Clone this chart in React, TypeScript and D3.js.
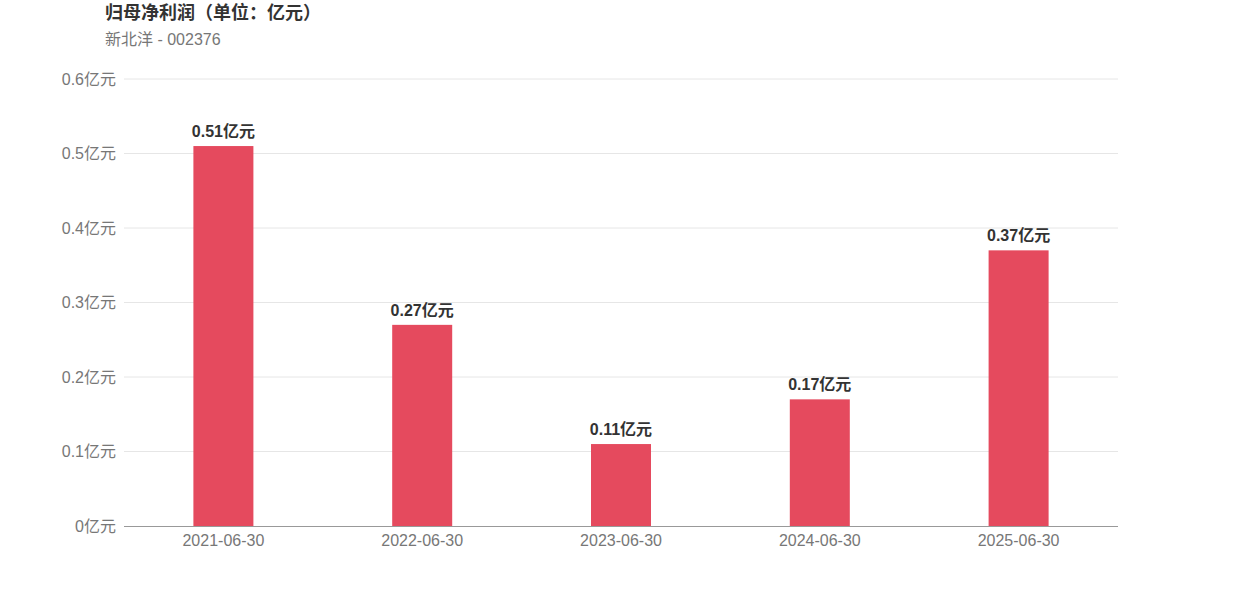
import React from "react";
import * as d3 from "d3";

const categories = ["2021-06-30", "2022-06-30", "2023-06-30", "2024-06-30", "2025-06-30"];
const values = [0.51, 0.27, 0.11, 0.17, 0.37];
const yTicks = [0, 0.1, 0.2, 0.3, 0.4, 0.5, 0.6];
const title = "归母净利润（单位：亿元）";
const subtitle = "新北洋 - 002376";

const W = 1242;
const H = 596;
const left = 124;
const right = 1118;
const top = 79;
const bottom = 526;
const font = "'Liberation Sans', Arial, 'Noto Sans CJK SC', sans-serif";

export default function App() {
  const x = d3.scaleBand<string>().domain(categories).range([left, right]);
  const y = d3.scaleLinear().domain([0, 0.6]).range([bottom, top]);
  const barW = 60;
  const fmt = (v: number) => `${+v.toFixed(2)}亿元`;
  return (
    <svg width={W} height={H} style={{ position: "absolute", left: 0, top: 0, background: "#fff" }} fontFamily={font}>
      <text x={105} y={19} fontSize={18} fontWeight="bold" fill="#333">{title}</text>
      <text x={105} y={45} fontSize={16} fill="#777">{subtitle}</text>
      {yTicks.map((t) => (
        <g key={t}>
          {t !== 0 && <line x1={left} x2={right} y1={y(t)} y2={y(t)} stroke="#e6e6e6" strokeWidth={1} />}
          <text x={116} y={y(t)} dy="0.35em" textAnchor="end" fontSize={16} fill="#777">{`${t}亿元`}</text>
        </g>
      ))}
      {categories.map((c, i) => {
        const cx = (x(c) as number) + x.bandwidth() / 2;
        return (
          <g key={c}>
            <rect x={cx - barW / 2} y={y(values[i])} width={barW} height={bottom - y(values[i])} fill="#e54a5e" />
            <text x={cx} y={y(values[i]) - 9} textAnchor="middle" fontSize={16} fontWeight="bold" fill="#333">{fmt(values[i])}</text>
            <text x={cx} y={546} textAnchor="middle" fontSize={16} fill="#777">{c}</text>
          </g>
        );
      })}
      <line x1={left} x2={right} y1={bottom + 0.5} y2={bottom + 0.5} stroke="#999" strokeWidth={1} />
    </svg>
  );
}
